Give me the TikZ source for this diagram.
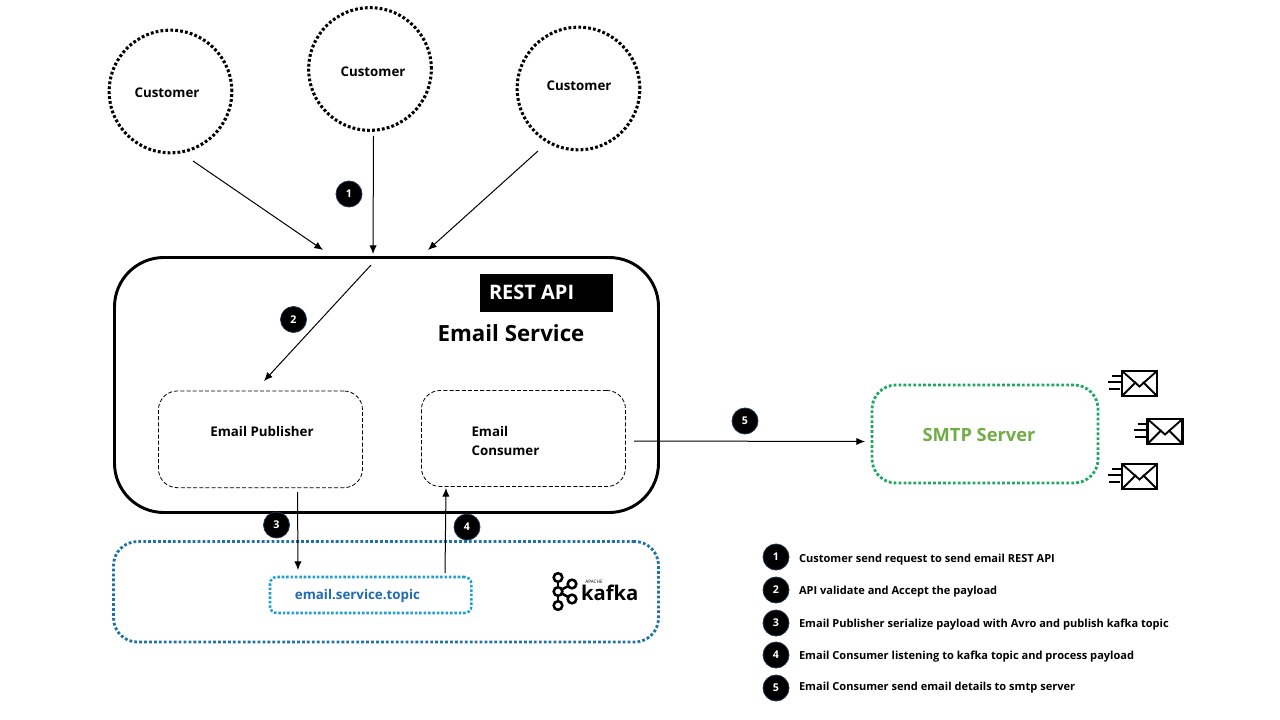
\documentclass[tikz,border=0pt]{standalone}
\usepackage{fontspec}
\setmainfont{Open Sans}
\usetikzlibrary{arrows.meta}
\definecolor{smtpgreen}{HTML}{1FA862}
\definecolor{smtptext}{HTML}{70AD47}
\definecolor{kafkablue}{HTML}{1F71A8}
\definecolor{topicblue}{HTML}{1F9FD0}
\definecolor{topictext}{HTML}{1F6CB0}
\definecolor{badgeedge}{HTML}{1F3350}
\tikzset{
  x=0.75pt,y=-0.75pt,
  every node/.style={outer sep=0pt},
  customer/.style={circle,draw=black,line width=2.3pt,dash pattern=on 2.1pt off 1.6pt,minimum size=92pt,inner sep=0pt},
  custlabel/.style={font=\fontsize{10}{12}\selectfont\bfseries,inner sep=0pt},
  arrowline/.style={draw=black,line width=0.75pt,-{Latex[length=6.5pt,width=5.5pt]}},
  plainlabel/.style={font=\fontsize{10}{12}\selectfont\bfseries,inner sep=0pt,align=left},
  innerbox/.style={draw=black,line width=0.6pt,dash pattern=on 3pt off 1.6pt,rounded corners=14pt,inner sep=0pt},
  badge/.style={circle,fill=black,draw=badgeedge,line width=0.6pt,minimum size=19.5pt,inner sep=0pt,text=white,font=\fontsize{8}{10}\selectfont\bfseries},
  legend/.style={anchor=west,font=\fontsize{8.3}{10}\selectfont\bfseries,inner sep=0pt},
  logonode/.style={circle,draw=black,line width=1.9pt,minimum size=6.5pt,inner sep=0pt},
  envelope/.pic={
    \draw[line width=1.7pt] (-11,-12.5) rectangle (24,12.5);
    \draw[line width=1.4pt] (-11,-12.5) -- (6.5,3) -- (24,-12.5);
    \draw[line width=1.4pt] (-11,12.5) -- (3,-1.5);
    \draw[line width=1.4pt] (24,12.5) -- (10,-1.5);
    \draw[line width=1.5pt] (-21,-8) -- (-11,-8);
    \draw[line width=1.5pt] (-25,-2) -- (-10,-2);
    \draw[line width=1.5pt] (-24,5.5) -- (-13,5.5);
  },
}
\begin{document}
\begin{tikzpicture}
\useasboundingbox[fill=white] (0,0) rectangle (1280,720);
% customers
\node[customer] (c1) at (170.5,91.5) {};
\node[customer] (c2) at (370,69) {};
\node[customer] (c3) at (578.5,88.5) {};
\node[custlabel] (c1t) at (167,92.5) {Customer};
\node[custlabel] (c2t) at (373,71.5) {Customer};
\node[custlabel] (c3t) at (579,85.5) {Customer};
% service
\node[draw=black,line width=2.2pt,rounded corners=37pt,minimum width=408pt,minimum height=191.25pt,inner sep=0pt,anchor=north west] (svc) at (114.5,257.5) {};
\node[fill=black,minimum width=99.75pt,minimum height=28.5pt,inner sep=0pt,anchor=north west] (rest) at (480,274) {};
\node[text=white,font=\fontsize{15}{18}\selectfont\bfseries,inner sep=0pt,anchor=west] (restt) at (489,292.5) {REST API};
\node[font=\fontsize{16.7}{20}\selectfont\bfseries,inner sep=0pt] (svct) at (511,333.5) {Email Service};
% inner boxes
\node[innerbox,minimum width=153pt,minimum height=72.5pt,anchor=north west] (pub) at (158.5,391) {};
\node[innerbox,minimum width=153pt,minimum height=72pt,anchor=north west] (con) at (421.5,390.5) {};
\node[plainlabel] (pubt) at (262,431) {Email Publisher};
\node[plainlabel,anchor=north west,text width=60pt,font=\fontsize{10}{14.3}\selectfont\bfseries] (cont) at (471.5,426) {Email\\Consumer};
% kafka
\node[draw=kafkablue,line width=2.1pt,dash pattern=on 2.1pt off 1.6pt,rounded corners=18pt,minimum width=408.75pt,minimum height=75.4pt,inner sep=0pt,anchor=north west] (kbox) at (113.5,541.5) {};
\node[draw=topicblue,line width=1.9pt,dash pattern=on 1.9pt off 1.4pt,rounded corners=5pt,minimum width=151pt,minimum height=27pt,inner sep=0pt,anchor=north west] (topic) at (270,577) {};
\node[text=topictext,font=\fontsize{10}{12}\selectfont\bfseries,inner sep=0pt] (topict) at (357.5,596) {email.service.topic};
% smtp
\node[draw=smtpgreen,line width=2.1pt,dash pattern=on 2.1pt off 1.6pt,rounded corners=18pt,minimum width=169.5pt,minimum height=73.5pt,inner sep=0pt,anchor=north west] (smtp) at (872,385) {};
\node[text=smtptext,font=\fontsize{13.7}{16}\selectfont\bfseries,inner sep=0pt] (smtpt) at (979,434.5) {SMTP Server};
% envelopes
\pic at (1133,383.5) {envelope};
\pic at (1158.5,431.5) {envelope};
\pic at (1133,476.5) {envelope};
% kafka logo
\node[logonode] (k1) at (558,577.5) {};
\node[logonode] (k2) at (558,591.5) {};
\node[logonode] (k3) at (558,605.5) {};
\node[logonode] (k4) at (572,584) {};
\node[logonode] (k5) at (572,599) {};
\draw[line width=1.9pt] (k1) -- (k2) -- (k3);
\draw[line width=1.9pt] (k2) -- (k4);
\draw[line width=1.9pt] (k2) -- (k5);
\node[font=\fontsize{15.2}{20}\selectfont\bfseries,inner sep=0pt,anchor=west] (kt) at (581,593) {kafka};
\node[font=\fontsize{3.5}{4}\selectfont,inner sep=0pt] (kap) at (594,582) {APACHE};
% connector ends
\coordinate (a1s) at (193,161); \coordinate (a1e) at (323,250);
\coordinate (a2s) at (373.5,136); \coordinate (a2e) at (373,254);
\coordinate (a3s) at (538,151); \coordinate (a3e) at (428,250);
\coordinate (a4s) at (371,265); \coordinate (a4e) at (264,381);
\coordinate (a5s) at (297.5,492); \coordinate (a5e) at (298,570);
\coordinate (a6s) at (445,573); \coordinate (a6e) at (446,488);
\coordinate (a7s) at (634,441); \coordinate (a7e) at (865,441.5);
\draw[arrowline] (a1s) -- (a1e);
\draw[arrowline] (a2s) -- (a2e);
\draw[arrowline] (a3s) -- (a3e);
\draw[arrowline] (a4s) -- (a4e);
\draw[arrowline] (a5s) -- (a5e);
\draw[arrowline] (a6s) -- (a6e);
\draw[arrowline] (a7s) -- (a7e);
% badges
\node[badge] (b1) at (349,194) {1};
\node[badge] (b2) at (293.5,319.5) {2};
\node[badge] (b3) at (276.5,525) {3};
\node[badge] (b4) at (467,527) {4};
\node[badge] (b5) at (745,421) {5};
% legend
\node[badge] (l1) at (776,557) {1};
\node[badge] (l2) at (776,590) {2};
\node[badge] (l3) at (776,623) {3};
\node[badge] (l4) at (776,655) {4};
\node[badge] (l5) at (776,688) {5};
\node[legend] (lt1) at (799,560) {Customer send request to send email REST API};
\node[legend] (lt2) at (799,592) {API validate and Accept the payload};
\node[legend] (lt3) at (799,625) {Email Publisher serialize payload with Avro and publish kafka topic};
\node[legend] (lt4) at (799,657) {Email Consumer listening to kafka topic and process payload};
\node[legend] (lt5) at (799,688) {Email Consumer send email details to smtp server};
\end{tikzpicture}
\end{document}
